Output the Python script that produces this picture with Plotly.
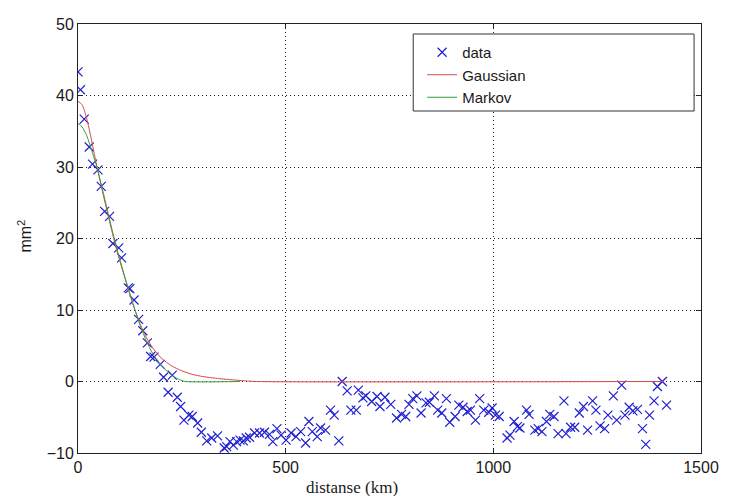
import plotly.graph_objects as go

# ---- data ----
data_x = [0, 6, 15, 27, 35, 48, 56, 64, 76, 84, 98, 105, 121, 125, 135, 146, 156, 167, 175, 183,
          198, 206, 217, 227, 239, 247, 255, 267, 275, 288, 297, 310, 322, 336, 352, 358, 366, 374,
          382, 390, 398, 405, 413, 425, 437, 449, 461, 469, 479, 489, 501, 513, 525, 536, 548, 556,
          564, 576, 584, 596, 608, 617, 628, 636, 648, 657, 670, 675, 686, 693, 707, 720, 727, 739,
          753, 767, 779, 789, 797, 806, 816, 826, 838, 846, 858, 866, 876, 887, 895, 908, 917, 927,
          937, 945, 957, 967, 977, 989, 997, 1005, 1014, 1033, 1040, 1050, 1058, 1064, 1080, 1086,
          1100, 1108, 1117, 1128, 1136, 1146, 1156, 1170, 1175, 1186, 1196, 1207, 1217, 1227, 1239,
          1247, 1257, 1268, 1276, 1289, 1297, 1309, 1317, 1327, 1336, 1347, 1359, 1367, 1376, 1387,
          1395, 1407, 1417]
data_y = [43.3, 40.8, 36.7, 32.8, 30.4, 29.6, 27.3, 23.8, 23.1, 19.3, 18.7, 17.3, 13.1, 13.0, 11.4,
          8.7, 7.1, 5.4, 3.5, 3.4, 2.4, 0.6, -1.5, 0.9, -2.2, -3.5, -5.4, -4.7, -4.9, -5.8, -7.1,
          -8.3, -7.9, -7.6, -9.3, -9.1, -8.4, -8.9, -8.4, -8.2, -8.3, -7.9, -7.8, -7.2, -7.2, -7.1,
          -7.4, -8.4, -6.6, -7.5, -8.2, -7.2, -7.7, -7.0, -8.6, -5.6, -7.0, -7.7, -6.5, -6.8, -4.0,
          -4.7, -8.3, 0.0, -1.3, -4.0, -4.0, -1.2, -2.3, -2.0, -2.8, -2.1, -3.5, -2.2, -3.2, -5.1,
          -4.6, -4.9, -3.2, -2.4, -2.0, -4.4, -3.0, -2.9, -2.0, -4.0, -4.4, -2.4, -5.7, -4.9, -3.3,
          -3.6, -4.2, -4.0, -5.4, -2.4, -4.0, -4.3, -3.7, -4.7, -4.9, -7.9, -7.5, -5.6, -6.3, -6.5,
          -4.0, -4.6, -6.8, -6.6, -7.0, -5.6, -4.6, -4.9, -7.3, -2.7, -7.3, -6.4, -6.4, -4.4, -3.5,
          -6.8, -2.7, -4.0, -6.2, -6.6, -4.7, -2.0, -5.4, -0.5, -4.7, -3.6, -4.1, -3.9, -6.6, -8.8,
          -4.7, -2.7, -0.7, 0.0, -3.3]

gauss_x = [0, 10, 20, 30, 40, 50, 60, 73, 86, 100, 118, 136, 150, 165, 180, 200, 225, 250, 275,
           300, 340, 390, 430, 1410]
gauss_y = [39.2, 38.7, 37.0, 34.5, 31.6, 28.9, 26.3, 23.1, 20.0, 17.0, 13.5, 10.2, 8.0, 6.1, 4.7,
           3.3, 2.2, 1.5, 1.0, 0.7, 0.4, 0.15, 0.0, 0.0]

markov_x = [0, 10, 21, 32, 44, 60, 73, 86, 100, 118, 136, 150, 165, 180, 198, 215, 230, 245, 258, 390]
markov_y = [36.1, 35.6, 34.4, 32.5, 30.3, 26.6, 23.4, 20.3, 17.2, 13.6, 10.2, 7.8, 5.6, 3.9, 2.4,
            1.4, 0.7, 0.25, 0.0, 0.0]

x_ticks = [0, 500, 1000, 1500]
y_ticks = [-10, 0, 10, 20, 30, 40, 50]

# ---- figure ----
W, H = 731, 496
ML, MR, MT, MB = 78, 23, 24, 43
PW, PH = W - ML - MR, H - MT - MB

def px_x(p):
    return (p - ML) / PW

def px_y(p):
    return (H - MB - p) / PH

fig = go.Figure()
fig.add_trace(go.Scatter(x=data_x, y=data_y, mode="markers", name="data",
                         marker=dict(symbol="x-thin", size=9, color="rgba(0,0,0,0)",
                                     line=dict(color="#2020d0", width=1.2))))
fig.add_trace(go.Scatter(x=gauss_x, y=gauss_y, mode="lines", name="Gaussian",
                         line=dict(color="#d84848", width=1, shape="spline", smoothing=0.6)))
fig.add_trace(go.Scatter(x=markov_x, y=markov_y, mode="lines", name="Markov",
                         line=dict(color="#3a9a3a", width=1, shape="spline", smoothing=0.6)))

axis_common = dict(showline=True, linecolor="#222", linewidth=1, mirror="ticks",
                   ticks="inside", ticklen=5, tickcolor="#222", showgrid=True,
                   gridcolor="#222", griddash="1px,3px", gridwidth=1, zeroline=False,
                   tickfont=dict(family="Arial, Liberation Sans, sans-serif", size=16, color="#1a1a1a"))

fig.update_xaxes(range=[0, 1500], tickvals=x_ticks, **axis_common)
fig.update_yaxes(range=[-10, 50], tickvals=y_ticks, **axis_common)

fig.add_shape(type="rect", xref="paper", yref="paper",
              x0=px_x(417), x1=px_x(701), y0=px_y(111), y1=px_y(34),
              line=dict(color="#333", width=1), fillcolor="white", layer="above")

fig.add_annotation(text="distanse (km)", xref="paper", yref="paper", x=px_x(355), y=px_y(487),
                   showarrow=False, xanchor="center", yanchor="middle",
                   font=dict(family="Liberation Serif, Times New Roman, serif", size=17, color="#1a1a1a"))
fig.add_annotation(text="mm<sup>2</sup>", xref="paper", yref="paper", x=px_x(24), y=px_y(236),
                   showarrow=False, textangle=-90, xanchor="center", yanchor="middle",
                   font=dict(family="Arial, Liberation Sans, sans-serif", size=16, color="#1a1a1a"))

fig.update_layout(
    width=W, height=H, margin=dict(l=ML, r=MR, t=MT, b=MB),
    paper_bgcolor="white", plot_bgcolor="white",
    showlegend=True,
    legend=dict(x=px_x(426), y=px_y(36), xanchor="left", yanchor="top",
                bgcolor="rgba(0,0,0,0)", borderwidth=0,
                font=dict(family="Arial, Liberation Sans, sans-serif", size=15, color="#1a1a1a")),
)

fig.write_html("out.html")
